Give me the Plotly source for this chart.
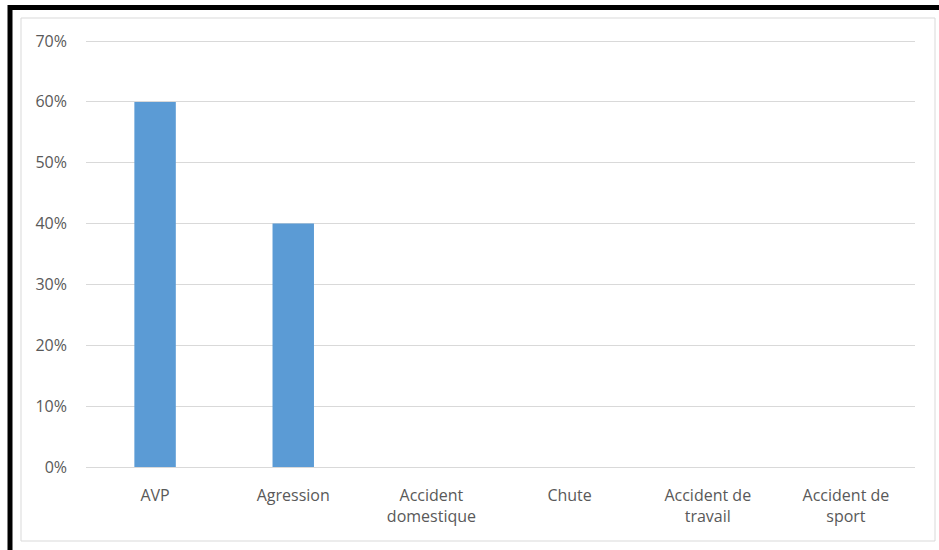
import plotly.graph_objects as go

# Répartition des mécanismes de traumatisme
categories = ["AVP", "Agression", "Accident<br>domestique", "Chute",
              "Accident de<br>travail", "Accident de<br>sport"]
values = [0.60, 0.40, 0, 0, 0, 0]
y_ticks = [0, 0.1, 0.2, 0.3, 0.4, 0.5, 0.6, 0.7]
y_tick_labels = ["0%", "10%", "20%", "30%", "40%", "50%", "60%", "70%"]

W, H = 939, 550
L, R, T, B = 86, 24, 38, 83
pw, ph = W - L - R, H - T - B


def px_x(p):
    return (p - L) / pw


def px_y(p):
    return (H - B - p) / ph


FONT = "Open Sans"
GREY_TXT = "#595959"
FS = 16

fig = go.Figure(go.Bar(
    x=categories, y=values,
    marker=dict(color="#5b9bd5", line=dict(width=0)),
    width=0.30,
))

fig.update_layout(
    width=W, height=H,
    margin=dict(l=L, r=R, t=T, b=B, pad=0),
    paper_bgcolor="white", plot_bgcolor="white",
    showlegend=False,
    font=dict(family=FONT, size=FS, color=GREY_TXT),
    xaxis=dict(
        showgrid=False, showline=False, zeroline=False,
        ticks="", tickfont=dict(family=FONT, size=FS, color=GREY_TXT),
        ticklabelstandoff=17,
    ),
    yaxis=dict(
        range=[0, 0.705], tickvals=y_ticks, ticktext=y_tick_labels,
        showgrid=True, gridcolor="#d9d9d9", gridwidth=1,
        zeroline=True, zerolinecolor="#d9d9d9", zerolinewidth=1,
        showline=False, ticks="",
        tickfont=dict(family=FONT, size=FS, color=GREY_TXT),
        ticklabelstandoff=18,
    ),
    shapes=[
        # chart area frame
        dict(type="rect", xref="paper", yref="paper",
             x0=px_x(21), x1=px_x(935), y0=px_y(541), y1=px_y(18),
             line=dict(color="#d9d9d9", width=1), layer="below"),
        # heavy black edge along left and top
        dict(type="line", xref="paper", yref="paper",
             x0=px_x(10), x1=px_x(10), y0=px_y(5), y1=px_y(560),
             line=dict(color="black", width=5)),
        dict(type="line", xref="paper", yref="paper",
             x0=px_x(8), x1=px_x(960), y0=px_y(7.5), y1=px_y(7.5),
             line=dict(color="black", width=5)),
    ],
)

fig.write_html("out.html")
